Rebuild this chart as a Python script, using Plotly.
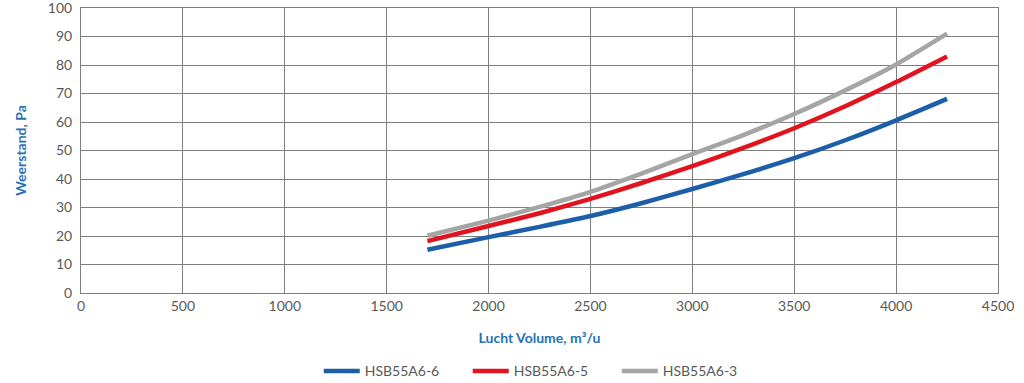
import plotly.graph_objects as go

airflow = [1700, 2000, 2250, 2500, 2750, 3000, 3250, 3500, 3750, 4000, 4250]
hsb55a6_6 = [15.2, 19.6, 23.2, 27.0, 31.5, 36.5, 41.7, 47.3, 53.6, 60.6, 68.1]
hsb55a6_5 = [18.2, 23.5, 28.0, 33.0, 38.6, 44.5, 50.9, 57.8, 65.5, 74.0, 83.0]
hsb55a6_3 = [20.1, 25.4, 30.2, 35.5, 41.9, 48.7, 55.4, 62.8, 71.1, 80.2, 91.0]

series = [
    ("HSB55A6-6", hsb55a6_6, "#1c5fa8"),
    ("HSB55A6-5", hsb55a6_5, "#e0131f"),
    ("HSB55A6-3", hsb55a6_3, "#a5a5a5"),
]

x_ticks = list(range(0, 4501, 500))
y_ticks = list(range(0, 101, 10))

fig = go.Figure()
for name, vals, col in series:
    fig.add_trace(go.Scatter(
        x=airflow, y=vals, name=name, mode="lines",
        line=dict(color=col, width=4.5, shape="spline", smoothing=0.6),
    ))

font_family = "Lato, 'Open Sans', sans-serif"
title_col = "#2672b4"

fig.update_layout(
    width=1024, height=383,
    margin=dict(l=81, r=26, t=8, b=90, autoexpand=False),
    paper_bgcolor="white", plot_bgcolor="white",
    font=dict(family=font_family, size=14, color="#595959"),
    showlegend=True,
    legend=dict(orientation="h", x=0.503, xanchor="center", y=-0.275, yanchor="middle",
                font=dict(size=14, color="#595959"), itemwidth=36,
                entrywidth=98, entrywidthmode="pixels"),
)
fig.update_xaxes(
    range=[0, 4500], tickvals=x_ticks, ticktext=[str(v) for v in x_ticks],
    showgrid=True, gridcolor="#7f7f7f", gridwidth=1,
    showline=True, linecolor="#7f7f7f", linewidth=1, mirror=True,
    zeroline=False, ticks="", ticklen=0, automargin=False, ticklabeloverflow="allow",
    title=dict(text="<b>Lucht Volume, m³/u</b>", font=dict(color=title_col, size=14), standoff=20),
)
fig.update_yaxes(
    range=[0, 100], tickvals=y_ticks, ticktext=[str(v) for v in y_ticks],
    showgrid=True, gridcolor="#7f7f7f", gridwidth=1,
    showline=True, linecolor="#7f7f7f", linewidth=1, mirror=True,
    zeroline=False, ticks="", ticklabelstandoff=5, automargin=False, ticklabeloverflow="allow",
    title=dict(text="<b>Weerstand, Pa</b>", font=dict(color=title_col, size=14), standoff=17),
)

fig.write_html("out.html", config={"displayModeBar": False},
               post_script="document.body.style.margin='0';document.body.style.overflow='hidden';")
